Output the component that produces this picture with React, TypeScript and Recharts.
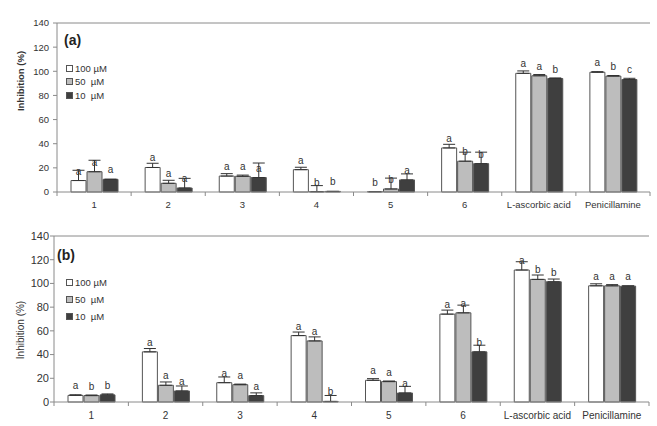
import React from "react";
import { BarChart, Bar, XAxis, YAxis, ErrorBar, LabelList, Legend, ReferenceLine } from "recharts";

const FONT = "'Liberation Sans', Arial, sans-serif";
const AXIS = "#8a8a8a";
const TEXT = "#333";

const categories = ["1", "2", "3", "4", "5", "6", "L-ascorbic acid", "Penicillamine"];
const seriesNames = ["100 µM", "50  µM", "10  µM"];
const seriesFills = ["#ffffff", "#bdbdbd", "#3f3f3f"];
const yTicks = [0, 20, 40, 60, 80, 100, 120, 140];

// (a) means, SD and significance letters
const a100 = [9.5, 20.3, 13.2, 18.5, 0.3, 36.5, 98.3, 99.2];
const a50 = [16.8, 7.2, 13, 0.3, 2.5, 25.5, 96.3, 96];
const a10 = [10.5, 3.3, 12, 0.5, 10, 23.5, 94, 93.2];
const a100Sd = [8.5, 3.5, 2, 2, 0, 3, 2, 0.5];
const a50Sd = [9.5, 2.5, 1, 5, 9, 7.5, 1, 0.5];
const a10Sd = [0, 8, 12, 0, 5, 9.5, 0.5, 1];
const a100Sig = ["a", "a", "a", "a", "b", "a", "a", "a"];
const a50Sig = ["a", "a", "a", "b", "b", "b", "a", "b"];
const a10Sig = ["a", "a", "a", "b", "a", "b", "b", "c"];

// (b) means, SD and significance letters
const b100 = [5.6, 42.3, 16.3, 56, 18.3, 74.1, 111.3, 98];
const b50 = [5.4, 14.1, 14.6, 51.5, 17.2, 75.2, 103.4, 98];
const b10 = [6, 9.3, 5.4, 0.5, 7.6, 42.3, 101.4, 97.7];
const b100Sd = [0.5, 2.8, 4.8, 3, 1.4, 3.4, 7, 1.7];
const b50Sd = [0.5, 2.8, 0.5, 3.4, 0.5, 6.5, 3.7, 1];
const b10Sd = [0.8, 4.2, 2.3, 5, 5.6, 5.6, 2.3, 0.3];
const b100Sig = ["a", "a", "a", "a", "a", "a", "a", "a"];
const b50Sig = ["b", "a", "a", "a", "a", "a", "b", "a"];
const b10Sig = ["b", "a", "a", "b", "a", "b", "b", "a"];

type Row = Record<string, string | number | number[]>;

function buildRows(vals: number[][], sds: number[][], sigs: string[][]): Row[] {
  return categories.map((name, i) => {
    const row: Row = { name };
    vals.forEach((v, s) => {
      row[`v${s}`] = v[i];
      row[`e${s}`] = [0, sds[s][i]]; // upper whisker only
      row[`s${s}`] = sigs[s][i];
    });
    return row;
  });
}

const rowsA = buildRows([a100, a50, a10], [a100Sd, a50Sd, a10Sd], [a100Sig, a50Sig, a10Sig]);
const rowsB = buildRows([b100, b50, b10], [b100Sd, b50Sd, b10Sd], [b100Sig, b50Sig, b10Sig]);

// category label with tick marks on the band edges
const CategoryTick = (props: any) => {
  const { x, y, payload, fontSize, textDy } = props;
  const half = payload.offset ?? 37;
  const last = payload.index === categories.length - 1;
  return (
    <g>
      <line x1={x - half} x2={x - half} y1={y} y2={y + 4} stroke={AXIS} />
      {last && <line x1={x + half} x2={x + half} y1={y} y2={y + 4} stroke={AXIS} />}
      <text x={x} y={y + textDy} textAnchor="middle" fontSize={fontSize} fill={TEXT} fontFamily={FONT}>
        {payload.value}
      </text>
    </g>
  );
};

const makeLegend = (rowH: number) => (props: any) => {
  const items = [...(props.payload ?? [])].sort(
    (p: any, q: any) => seriesNames.indexOf(p.value) - seriesNames.indexOf(q.value)
  );
  return (
    <div style={{ fontFamily: FONT, fontSize: 9.5, color: TEXT }}>
      {items.map((item: any) => (
        <div key={item.value} style={{ height: rowH, display: "flex", alignItems: "center", whiteSpace: "pre" }}>
          <span
            style={{
              display: "inline-block",
              width: 5,
              height: 5,
              border: "1px solid #555",
              background: item.color,
              marginRight: 2,
            }}
          />
          {item.value}
        </div>
      ))}
    </div>
  );
};

interface PanelProps {
  rows: Row[];
  height: number;
  axisWidth: number;
  xAxisHeight: number;
  rightMargin: number;
  tag: string;
  tagX: number;
  tagY: number;
  titleY: number;
  titleBold: boolean;
  yFont: number;
  yMargin: number;
  xFont: number;
  xDy: number;
  legendTop: number;
  legendRow: number;
}

function Panel(p: PanelProps) {
  return (
    <BarChart
      width={657}
      height={p.height}
      data={p.rows}
      margin={{ top: 23, right: p.rightMargin, left: 0, bottom: 0 }}
      barCategoryGap={14}
      barGap={1}
    >
      <XAxis
        dataKey="name"
        height={p.xAxisHeight}
        interval={0}
        stroke={AXIS}
        tickLine={false}
        tickSize={0}
        tickMargin={0}
        tick={<CategoryTick fontSize={p.xFont} textDy={p.xDy} />}
      />
      <YAxis
        domain={[0, 140]}
        ticks={yTicks}
        width={p.axisWidth}
        stroke={AXIS}
        tickSize={4}
        tickMargin={p.yMargin}
        tick={{ fontSize: p.yFont, fill: TEXT, fontFamily: FONT }}
      />
      <YAxis yAxisId="frame" orientation="right" domain={[0, 140]} width={0} tick={false} tickLine={false} stroke={AXIS} />
      <ReferenceLine y={140} stroke={AXIS} />
      <Legend
        layout="vertical"
        align="center"
        verticalAlign="middle"
        content={makeLegend(p.legendRow)}
        wrapperStyle={{ left: 66, top: p.legendTop, width: "auto" }}
      />
      {seriesNames.map((name, s) => (
        <Bar
          key={name}
          dataKey={`v${s}`}
          name={name}
          fill={seriesFills[s]}
          stroke="#555"
          strokeWidth={1}
          isAnimationActive={false}
        >
          <ErrorBar dataKey={`e${s}`} width={6} stroke="#333" strokeWidth={1} direction="y" />
          <LabelList dataKey={`s${s}`} position="top" offset={6} fontSize={10} fill={TEXT} fontFamily={FONT} />
        </Bar>
      ))}
      <text x={p.tagX} y={p.tagY} fontSize={14} fontWeight="bold" fill="#222" fontFamily={FONT}>
        {p.tag}
      </text>
      <text
        transform={`translate(20,${p.titleY}) rotate(-90)`}
        textAnchor="middle"
        dominantBaseline="central"
        fontSize={p.titleBold ? 9.5 : 10}
        fontWeight={p.titleBold ? "bold" : "normal"}
        fill={TEXT}
        fontFamily={FONT}
      >
        Inhibition (%)
      </text>
    </BarChart>
  );
}

export default function App() {
  return (
    <div style={{ position: "absolute", left: 0, top: 0, width: 657, height: 426, background: "#fff" }}>
      <div style={{ position: "absolute", left: 0, top: 0 }}>
        <Panel
          rows={rowsA}
          height={215}
          axisWidth={57}
          xAxisHeight={23}
          rightMargin={7}
          tag="(a)"
          tagX={64}
          tagY={45}
          titleY={81}
          titleBold={true}
          yFont={9.5}
          yMargin={4}
          xFont={9.5}
          xDy={15.5}
          legendTop={62}
          legendRow={13.3}
        />
      </div>
      <div style={{ position: "absolute", left: 0, top: 213 }}>
        <Panel
          rows={rowsB}
          height={213}
          axisWidth={54}
          xAxisHeight={24}
          rightMargin={8}
          tag="(b)"
          tagX={57}
          tagY={47}
          titleY={117}
          titleBold={false}
          yFont={11}
          yMargin={1}
          xFont={10}
          xDy={16.5}
          legendTop={61}
          legendRow={17}
        />
      </div>
    </div>
  );
}
